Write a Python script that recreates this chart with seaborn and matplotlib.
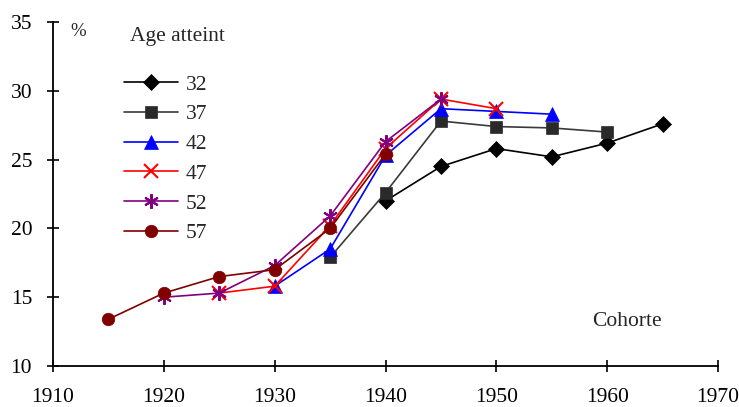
import matplotlib
matplotlib.use("Agg")
import matplotlib.pyplot as plt
import seaborn as sns
import pandas as pd

# Data (cohort year -> %)
labels = ["32", "37", "42", "47", "52", "57"]
years_32 = [1940, 1945, 1950, 1955, 1960, 1965]
vals_32 = [22.0, 24.5, 25.8, 25.2, 26.2, 27.6]
years_37 = [1935, 1940, 1945, 1950, 1955, 1960]
vals_37 = [17.9, 22.6, 27.8, 27.4, 27.3, 27.0]
years_42 = [1930, 1935, 1940, 1945, 1950, 1955]
vals_42 = [15.8, 18.5, 25.3, 28.7, 28.5, 28.3]
years_47 = [1925, 1930, 1935, 1940, 1945, 1950]
vals_47 = [15.3, 15.8, 20.2, 25.8, 29.4, 28.7]
years_52 = [1920, 1925, 1930, 1935, 1940, 1945]
vals_52 = [15.0, 15.3, 17.3, 20.9, 26.3, 29.4]
years_57 = [1915, 1920, 1925, 1930, 1935, 1940]
vals_57 = [13.4, 15.3, 16.5, 17.0, 20.0, 25.4]
x_ticks = [1910, 1920, 1930, 1940, 1950, 1960, 1970]
y_ticks = [10, 15, 20, 25, 30, 35]

sns.set_style("ticks")
plt.rcParams['font.family'] = ['Liberation Serif', 'DejaVu Serif']

fig = plt.figure(figsize=(7.39, 4.07), dpi=100)
ax = fig.add_axes([0.0717, 0.1007, 0.9000, 0.8453])

series = [
    (years_32, vals_32, "D", "#000000", "#000000", 8),
    (years_37, vals_37, "s", "#3a3a3a", "#2a2a2a", 8.5),
    (years_42, vals_42, "^", "#0000ff", "#0000ff", 9.5),
    (years_47, vals_47, "x", "#ff0000", "#ff0000", 9.5),
    (years_52, vals_52, (6, 2, 0), "#800080", "#800080", 10.5),
    (years_57, vals_57, "o", "#800000", "#800000", 9),
]

for lab, (xs, ys, mk, lc, mc, ms) in zip(labels, series):
    df = pd.DataFrame({"Cohorte": xs, "pct": ys})
    sns.lineplot(data=df, x="Cohorte", y="pct", ax=ax, color=lc, linewidth=1.2,
                 marker=mk, markersize=ms, markerfacecolor=mc, markeredgecolor=mc,
                 markeredgewidth=1.5 if mk in ("x", (6, 2, 0)) else 0.5,
                 label=lab)

ax.set_xlim(1910, 1970)
ax.set_ylim(10, 35)
ax.set_xticks(x_ticks)
ax.set_yticks(y_ticks)
ax.set_xlabel("")
ax.set_ylabel("")
ax.tick_params(direction="inout", length=8, width=1.2, labelsize=15.5, colors="black")
ax.tick_params(axis="x", pad=12)
ax.tick_params(axis="y", pad=11)
for s in ("top", "right"):
    ax.spines[s].set_visible(False)
for s in ("left", "bottom"):
    ax.spines[s].set_linewidth(1.3)
    ax.spines[s].set_color("black")

leg = ax.legend(loc="upper left", bbox_to_anchor=(0.094, 0.872), frameon=False,
                fontsize=15.5, handlelength=2.5, labelspacing=0.45, handletextpad=0.35,
                borderaxespad=0)

fig.text(78 / 739, 1 - 32 / 407, "%", fontsize=13.5, ha="center", va="center")
fig.text(177 / 739, 1 - 36 / 407, "Age atteint", fontsize=15.5, ha="center", va="center")
fig.text(627 / 739, 1 - 322 / 407, "Cohorte", fontsize=15.5, ha="center", va="center")

fig.savefig("out.png", dpi=100, facecolor="white")
